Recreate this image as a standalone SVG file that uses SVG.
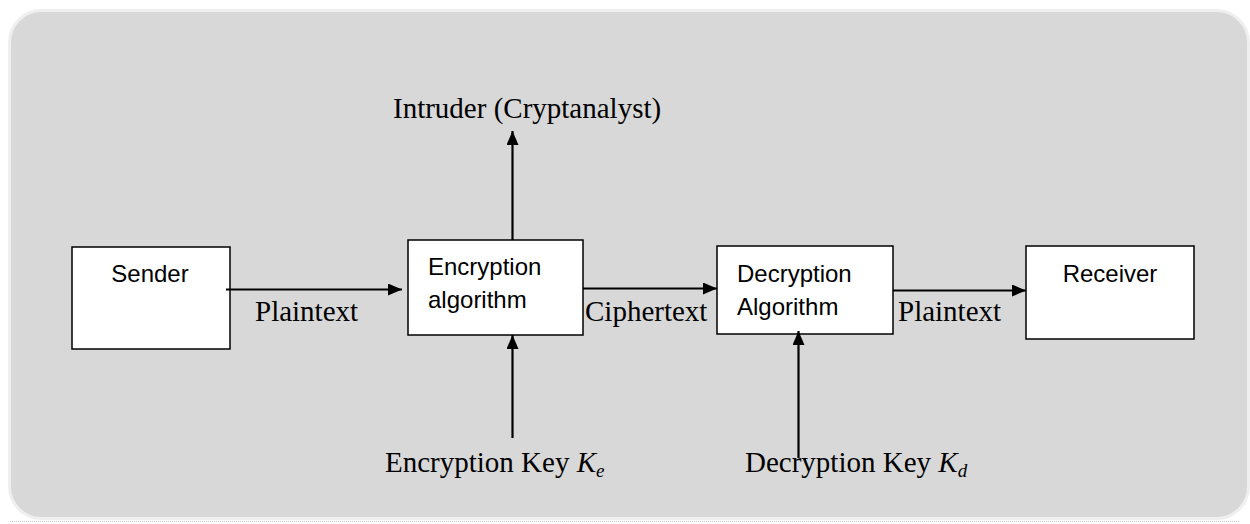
<svg xmlns="http://www.w3.org/2000/svg" width="1250" height="524" viewBox="0 0 1250 524">
<style>
.box{fill:#ffffff;stroke:#000000;stroke-width:1.5}
.sans{font-family:"Liberation Sans",Arial,sans-serif;font-size:24px;fill:#000}
.serif{font-family:"Liberation Serif","Times New Roman",serif;font-size:29px;fill:#000}
.conn{stroke:#000;stroke-width:2.2;fill:none}
</style>
<defs>
<marker id="arr" viewBox="0 0 14 12" refX="14" refY="6" markerWidth="14" markerHeight="12" markerUnits="userSpaceOnUse" orient="auto">
<path d="M0,0 L14,6 L0,12 Z" fill="#000"/>
</marker>
</defs>
<rect x="9.5" y="10.5" width="1239" height="508" rx="32" fill="#d8d8d8" stroke="#efefef" stroke-width="3"/>
<line x1="10" y1="521.5" x2="1240" y2="521.5" stroke="#c8c8c8" stroke-width="1" stroke-dasharray="1,1"/>
<g id="sender">
<rect class="box" x="72" y="247" width="158" height="102"/>
<text class="sans" x="150" y="282" text-anchor="middle">Sender</text>
</g>
<g id="encryption">
<rect class="box" x="408" y="240" width="175" height="95"/>
<text class="sans" x="428" y="275">Encryption</text>
<text class="sans" x="428" y="308">algorithm</text>
</g>
<g id="decryption">
<rect class="box" x="717" y="246" width="176" height="88"/>
<text class="sans" x="737" y="282">Decryption</text>
<text class="sans" x="737" y="315">Algorithm</text>
</g>
<g id="receiver">
<rect class="box" x="1026" y="246" width="168" height="93"/>
<text class="sans" x="1110" y="282" text-anchor="middle">Receiver</text>
</g>
<g id="intruder">
<text class="serif" x="393" y="118">Intruder (Cryptanalyst)</text>
</g>
<g id="enckey">
<text class="serif" x="385" y="472">Encryption Key <tspan font-style="italic">K</tspan><tspan font-style="italic" font-size="19" dy="5">e</tspan></text>
</g>
<g id="deckey">
<text class="serif" x="745" y="472">Decryption Key <tspan font-style="italic">K</tspan><tspan font-style="italic" font-size="19" dy="5">d</tspan></text>
</g>
<g id="connectors">
<line class="conn" x1="226" y1="289.5" x2="402" y2="289.5" marker-end="url(#arr)"/>
<text class="serif" x="255" y="321">Plaintext</text>
<line class="conn" x1="583" y1="288.5" x2="717" y2="288.5" marker-end="url(#arr)"/>
<text class="serif" x="585" y="321">Ciphertext</text>
<line class="conn" x1="893" y1="290.5" x2="1026" y2="290.5" marker-end="url(#arr)"/>
<text class="serif" x="898" y="321">Plaintext</text>
<line class="conn" x1="512.5" y1="240" x2="512.5" y2="131" marker-end="url(#arr)"/>
<line class="conn" x1="512.5" y1="438" x2="512.5" y2="335" marker-end="url(#arr)"/>
<line class="conn" x1="798.5" y1="458" x2="798.5" y2="331" marker-end="url(#arr)"/>
</g>
</svg>
